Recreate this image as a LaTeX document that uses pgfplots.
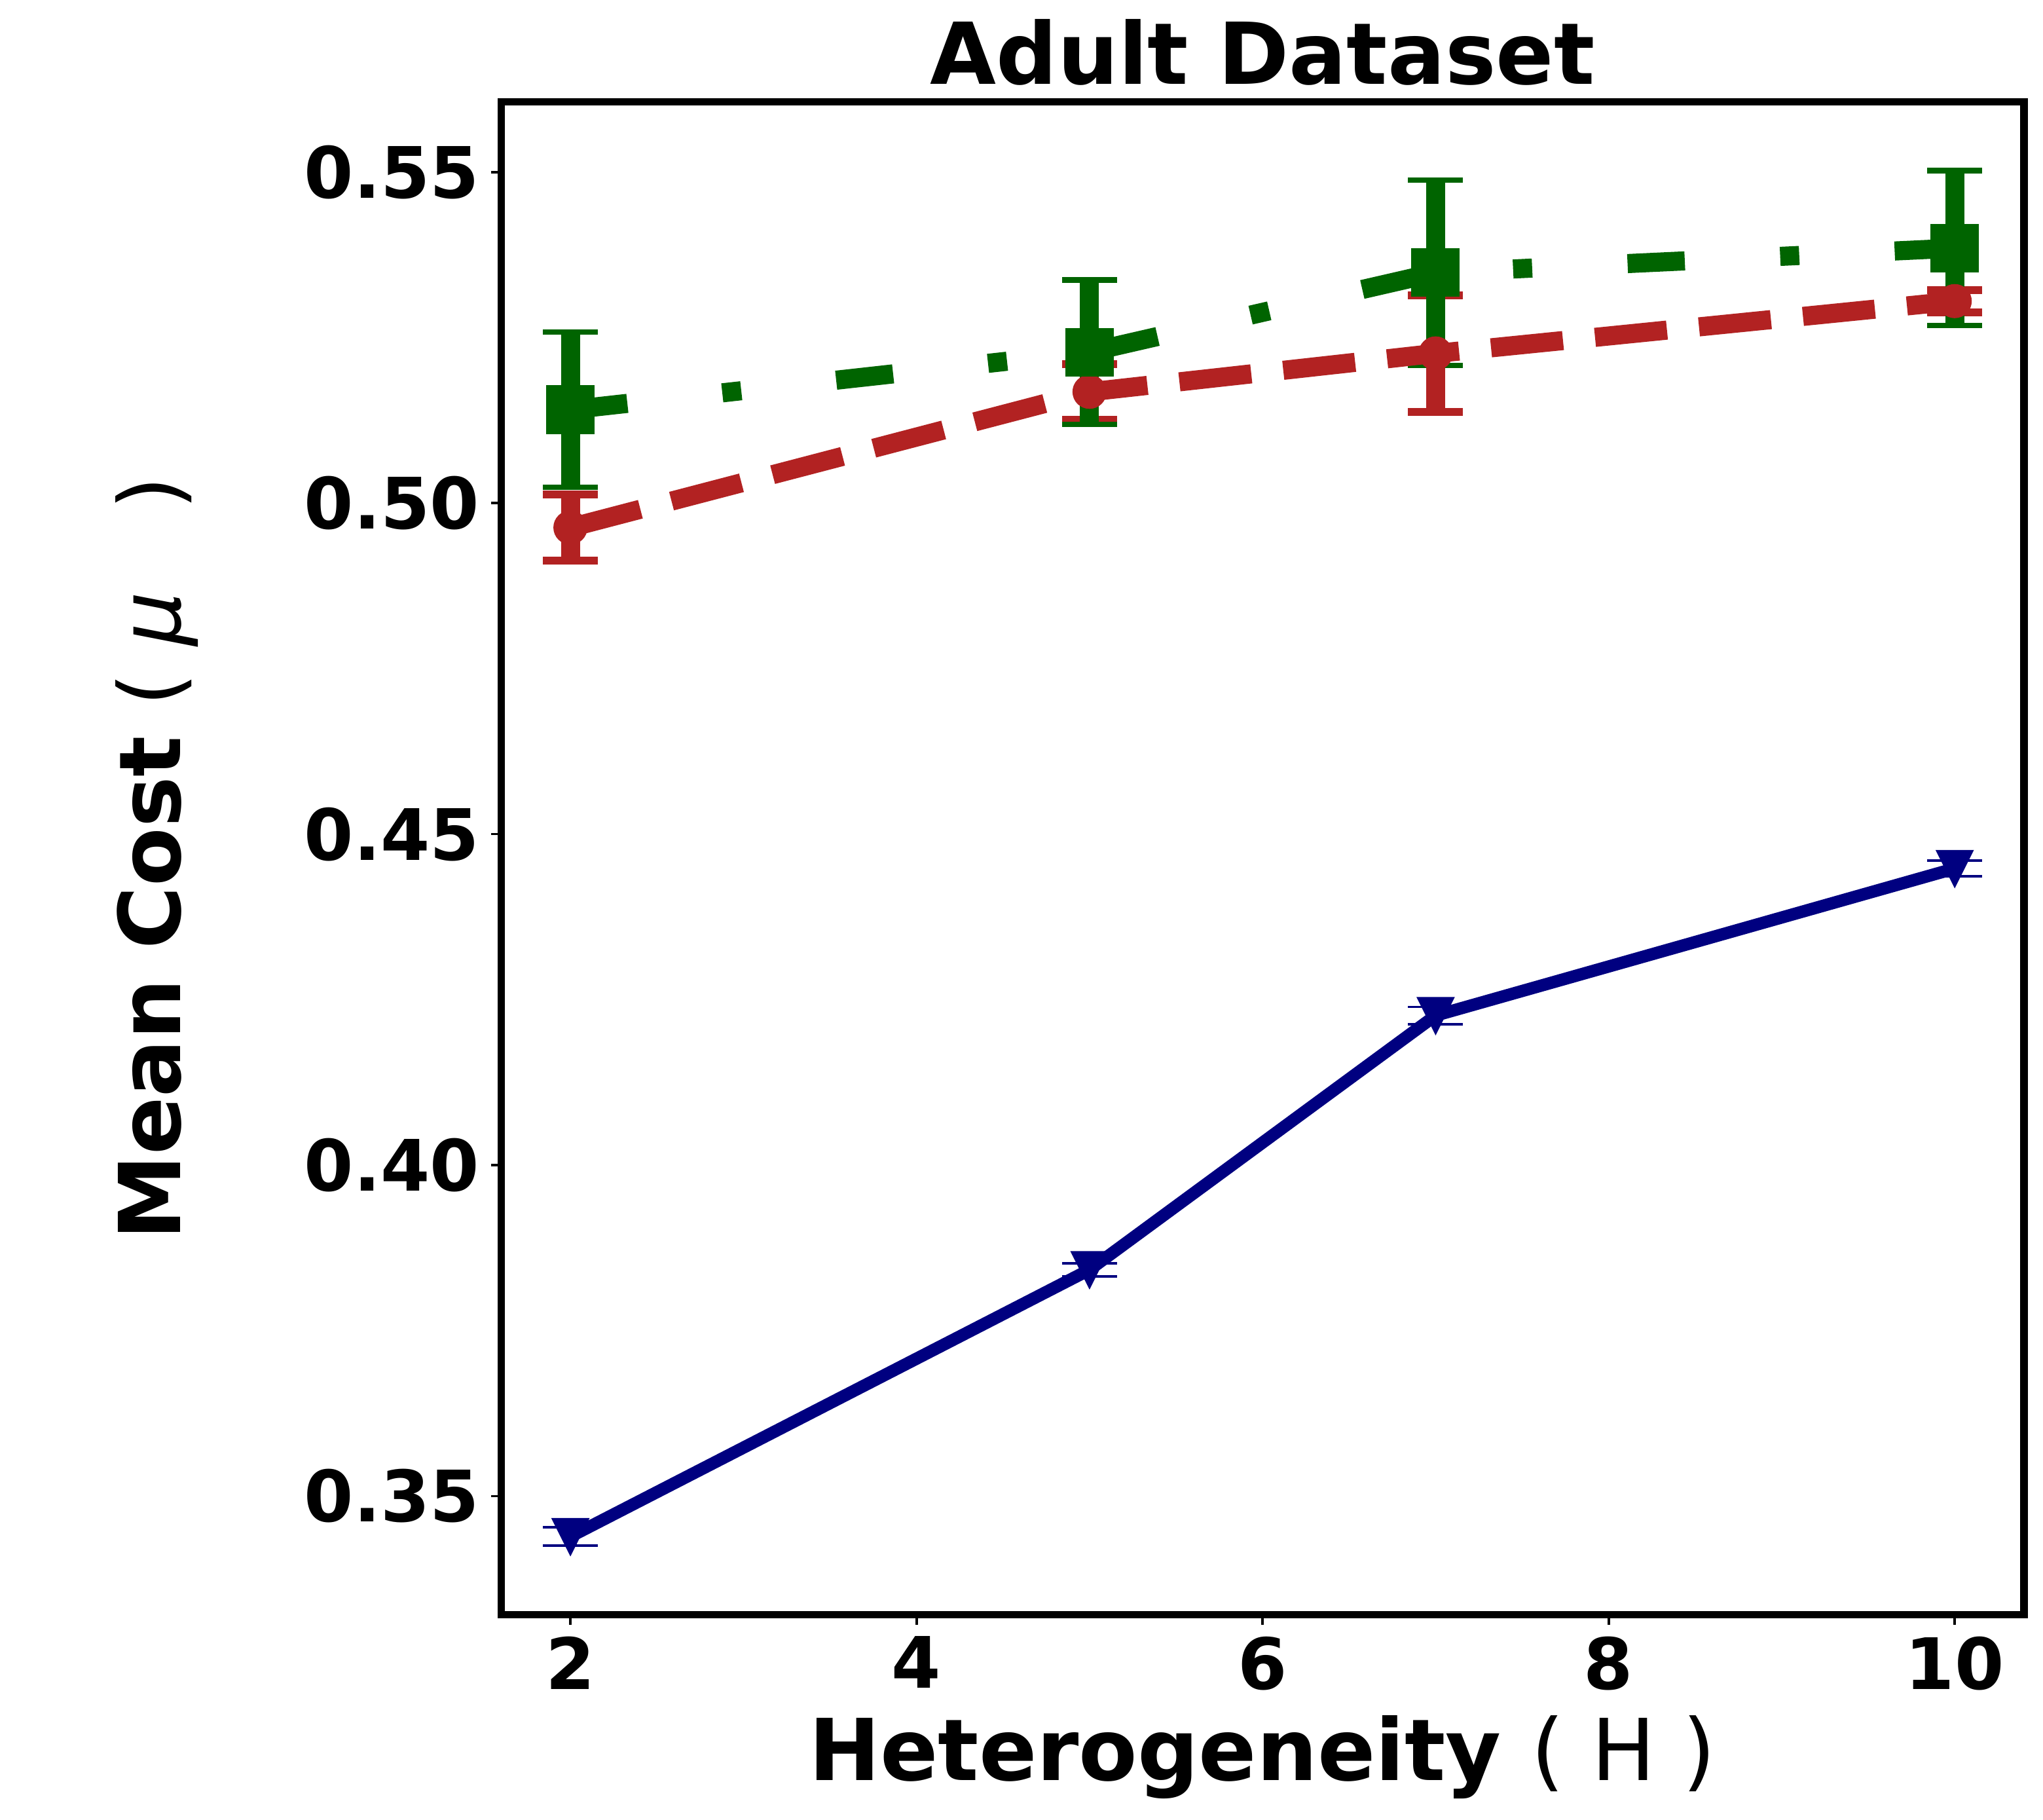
\documentclass[border=0pt]{standalone}
\usepackage{fontspec}
\setmainfont{DejaVu Sans}
\usepackage{pgfplots}
\usepackage{pgfplotstable}
\pgfplotsset{compat=1.18}
\definecolor{navyc}{RGB}{0,0,128}
\definecolor{fbrick}{RGB}{178,34,34}
\definecolor{dgreen}{RGB}{0,100,0}
\pgfdeclareplotmark{tridown}{%
  \pgfpathmoveto{\pgfqpoint{0pt}{-\pgfplotmarksize}}%
  \pgfpathlineto{\pgfqpoint{-\pgfplotmarksize}{\pgfplotmarksize}}%
  \pgfpathlineto{\pgfqpoint{\pgfplotmarksize}{\pgfplotmarksize}}%
  \pgfpathclose\pgfusepathqfillstroke}
\pgfplotstableread{
x y e
2 0.3439 0.0014
5 0.3842 0.0010
7 0.4226 0.0013
10 0.4448 0.0012
}\bluedata
\pgfplotstableread{
x y e
2 0.4963 0.0050
5 0.5168 0.0042
7 0.5226 0.0088
10 0.5305 0.0017
}\reddata
\pgfplotstableread{
x y e
2 0.5141 0.0117
5 0.5228 0.0109
7 0.5348 0.0140
10 0.5385 0.0117
}\greendata
\begin{document}
\begin{tikzpicture}
\useasboundingbox (0,0) rectangle (748.8pt,666.72pt);
\begin{axis}[
  scale only axis, width=558.1pt, height=554.4pt,
  at={(183.7pt,75.0pt)}, anchor=south west,
  xmin=1.6, xmax=10.4, ymin=0.3321, ymax=0.5606,
  axis line style={line width=2.8pt, black},
  tick align=outside, tick pos=left,
  major tick length=3.6pt, tick style={line width=0.9pt, black},
  xtick={2,4,6,8,10}, xticklabels={2,4,6,8,10},
  ytick={0.35,0.40,0.45,0.50,0.55}, yticklabels={0.35,0.40,0.45,0.50,0.55},
  ticklabel style={font=\bfseries\fontsize{26}{26}\selectfont},
  yticklabel style={inner sep=0pt, xshift=-4.2pt},
  xticklabel style={inner sep=0pt, yshift=-4.2pt},
  xlabel={Heterogeneity {\mdseries( H )}},
  ylabel={Mean Cost {\mdseries( {\itshape μ}\hspace{20pt} )}},
  xlabel style={font=\bfseries\fontsize{31.3}{31.3}\selectfont, at={(axis description cs:0.5,-0.1097)}, anchor=base},
  ylabel style={font=\bfseries\fontsize{31.3}{31.3}\selectfont, at={(axis description cs:-0.2105,0.5)}, anchor=base},
  title={Adult Dataset},
  every axis title shift=0pt,
  title style={font=\bfseries\fontsize{31.3}{31.3}\selectfont, at={(axis description cs:0.5,1)}, anchor=base, yshift=6.36pt},
]
% error bars first
\addplot[draw=none, mark=none, forget plot, error bars/.cd, y dir=both, y explicit,
  error bar style={draw=navyc, solid, line width=4.5pt},
  error mark=|, error mark options={draw=navyc, solid, line width=0.9pt, mark size=10.1pt}]
  table[x=x, y=y, y error=e]{\bluedata};
\addplot[draw=none, mark=none, forget plot, error bars/.cd, y dir=both, y explicit,
  error bar style={draw=fbrick, solid, line width=7pt},
  error mark=|, error mark options={draw=fbrick, solid, line width=2.9pt, mark size=10.1pt}]
  table[x=x, y=y, y error=e]{\reddata};
\addplot[draw=none, mark=none, forget plot, error bars/.cd, y dir=both, y explicit,
  error bar style={draw=dgreen, solid, line width=7pt},
  error mark=|, error mark options={draw=dgreen, solid, line width=2pt, mark size=10.1pt}]
  table[x=x, y=y, y error=e]{\greendata};
% blue
\addplot[navyc, only marks, mark=tridown, mark size=6.4pt, mark options={solid, line width=0.8pt, fill=navyc}]
  table[x=x, y=y]{\bluedata};
\addplot[navyc, line width=4.5pt, line join=round, mark=none]
  table[x=x, y=y]{\bluedata};
% red
\addplot[fbrick, line width=7pt, dash pattern=on 26.5pt off 11.8pt, mark=*, mark size=5.9pt,
  mark options={solid, line width=0.7pt, fill=fbrick}]
  table[x=x, y=y]{\reddata};
% green
\addplot[dgreen, line width=7pt, dash pattern=on 21pt off 35pt on 7pt off 35pt, mark=square*, mark size=8.6pt,
  mark options={solid, line width=0.6pt, fill=dgreen}]
  table[x=x, y=y]{\greendata};
\end{axis}
\end{tikzpicture}
\end{document}
